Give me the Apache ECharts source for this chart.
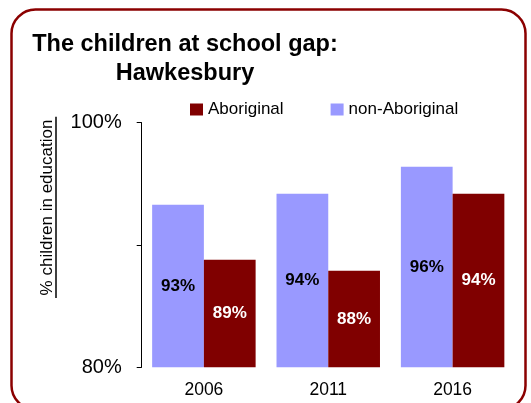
<!DOCTYPE html>
<html>
<head>
<meta charset="utf-8">
<script src="https://cdn.jsdelivr.net/npm/echarts@6/dist/echarts.min.js"></script>
<style>
html,body{margin:0;padding:0;background:#fff;}
#chart{width:531px;height:403px;}
</style>
</head>
<body>
<div id="chart"></div>
<script>
var categories = ['2006', '2011', '2016'];
var nonAboriginal = [93.3, 94.2, 96.4];
var aboriginal = [88.8, 87.9, 94.2];
var yTickLabels = {80: '80%', 90: '', 100: '100%'};
var legendNames = ['Aboriginal', 'non-Aboriginal'];

var FONT = "'Liberation Sans', Arial, Helvetica, sans-serif";
var chart = echarts.init(document.getElementById('chart'), null, {renderer: 'canvas'});

var option = {
  backgroundColor: '#ffffff',
  animation: false,
  title: {
    text: 'The children at school gap:\nHawkesbury',
    left: 180,
    top: 25,
    textAlign: 'center',
    textStyle: {fontFamily: FONT, fontSize: 23.5, fontWeight: 'bold', color: '#000', lineHeight: 29}
  },
  legend: {
    data: legendNames,
    left: 185,
    top: 96,
    icon: 'rect',
    itemWidth: 13,
    itemHeight: 12,
    itemGap: 47,
    textStyle: {fontFamily: FONT, fontSize: 17, color: '#000'}
  },
  grid: {left: 141.7, right: 16.2, top: 122.7, bottom: 35.7, containLabel: false},
  xAxis: {
    type: 'category',
    data: categories,
    axisLine: {show: false},
    axisTick: {show: false},
    axisLabel: {fontFamily: FONT, fontSize: 17.5, color: '#000', margin: 14}
  },
  yAxis: {
    type: 'value',
    min: 80,
    max: 100,
    interval: 10,
    splitLine: {show: false},
    axisLine: {show: true, lineStyle: {color: '#000', width: 1}},
    axisTick: {show: true, length: 5, lineStyle: {color: '#000', width: 1}},
    axisLabel: {
      fontFamily: FONT, fontSize: 20, color: '#000', margin: 20,
      formatter: function (v) { return yTickLabels[v] !== undefined ? yTickLabels[v] : ''; }
    }
  },
  series: [
    {
      name: 'non-Aboriginal',
      type: 'bar',
      data: nonAboriginal,
      barGap: '0%',
      barCategoryGap: '16.8%',
      itemStyle: {color: '#9999FF'},
      label: {
        show: true, position: 'inside',
        fontFamily: FONT, fontSize: 17, fontWeight: 'bold', color: '#000',
        formatter: function (p) { return Math.round(p.value) + '%'; }
      }
    },
    {
      name: 'Aboriginal',
      type: 'bar',
      data: aboriginal,
      barGap: '0%',
      barCategoryGap: '16.8%',
      itemStyle: {color: '#800000'},
      label: {
        show: true, position: 'inside',
        fontFamily: FONT, fontSize: 17, fontWeight: 'bold', color: '#fff',
        formatter: function (p) { return Math.round(p.value) + '%'; }
      }
    }
  ],
  graphic: [
    {
      type: 'rect',
      shape: {x: 11.5, y: 9.5, width: 514, height: 400, r: 24},
      style: {fill: 'none', stroke: '#8B0000', lineWidth: 2.5},
      silent: true
    },
    {
      type: 'text',
      x: 47.5,
      y: 207.5,
      rotation: Math.PI / 2,
      style: {
        text: '% children in education',
        fontFamily: FONT, fontSize: 17, fill: '#000',
        textAlign: 'center', textVerticalAlign: 'middle'
      },
      silent: true
    },
    {
      type: 'line',
      shape: {x1: 56, y1: 116.7, x2: 56, y2: 298},
      style: {stroke: '#000', lineWidth: 1.5},
      silent: true
    }
  ]
};
chart.setOption(option);
</script>
</body>
</html>
